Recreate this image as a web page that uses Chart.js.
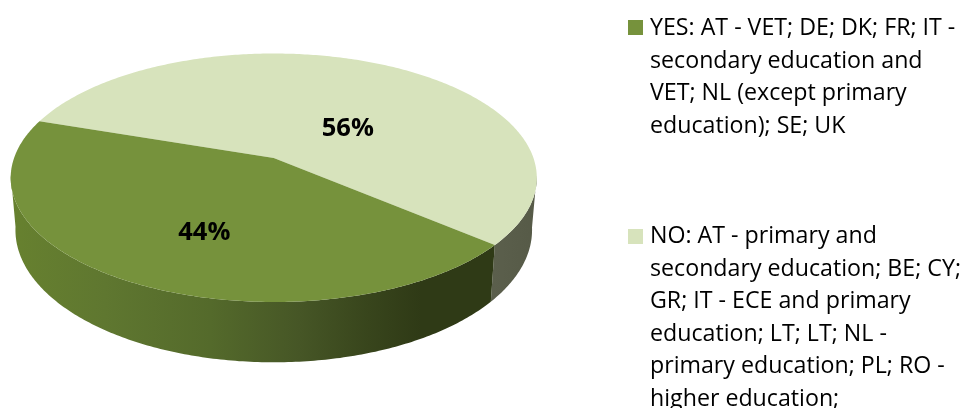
<!DOCTYPE html>
<html>
<head>
<meta charset="utf-8">
<style>
html,body{margin:0;padding:0;background:#fff;overflow:hidden}
canvas{display:block}
</style>
<script src="https://cdn.jsdelivr.net/npm/chart.js@4/dist/chart.umd.min.js"></script>
</head>
<body>
<canvas id="pie" width="966" height="408"></canvas>
<script>
// Survey answers and their share of responses
const categories = ['YES', 'NO'];
const shares = [44, 56];
const faceColours = ['#76923C', '#D7E3BC'];

// Legend wording, one array per answer, one entry per printed line
const yesLines = ['YES: AT - VET; DE; DK; FR; IT -', 'secondary education and', 'VET; NL (except primary', 'education); SE; UK'];
const noLines = ['NO: AT - primary and', 'secondary education; BE; CY;', 'GR; IT - ECE and primary', 'education; LT; LT; NL -', 'primary education; PL; RO -', 'higher education;'];

// Perspective model of the tilted disc: unit circle -> top face of the pie
const view = {cx: 273.75, apexY: 158, sx: 259.7, sy: 121.1, k: -0.159};
// The lower rim is the top rim moved down and slightly rescaled
const rim = {topCy: 177.75, lowCy: 230, fx: 0.982, fy: 1.065};

function project(r, a) {
  const x = r * Math.cos(a), y = r * Math.sin(a), w = 1 + view.k * y;
  return {x: view.cx + view.sx * x / w, y: view.apexY + view.sy * y / w};
}
function lower(p) {
  return {x: view.cx + (p.x - view.cx) * rim.fx, y: rim.lowCy + (p.y - rim.topCy) * rim.fy};
}
function rimPoints(a0, a1) {
  const n = Math.max(8, Math.ceil((a1 - a0) * 80)), pts = [];
  for (let i = 0; i <= n; i++) pts.push(project(1, a0 + (a1 - a0) * i / n));
  return pts;
}
function wallGradient(ctx, stops) {
  const g = ctx.createLinearGradient(10, 0, 537, 0);
  stops.forEach(s => g.addColorStop(s[0], s[1]));
  return g;
}

const wallStops = [
  [[0, '#67812F'], [0.18, '#5F7730'], [0.38, '#546A2B'], [0.55, '#465626'], [0.68, '#38451C'], [0.78, '#2F3A16'], [1, '#2F3A16']],
  [[0, '#5E6350'], [0.9, '#5C604D'], [1, '#565A47']]
];
const labelPlacement = [{turn: -5.4, radius: 0.60}, {turn: 18.6, radius: 0.40}];
const labelDrop = 2;
const legendLayout = {swatchX: 628, swatchSize: 15, textX: 650, lineGap: 32.6, blocks: [{top: 20, base: 35}, {top: 229, base: 243}]};

const tiltedPie = {
  id: 'tiltedPie',
  beforeDatasetDraw(chart, args) {
    const ctx = chart.ctx, arcs = chart.getDatasetMeta(args.index).data;
    ctx.save();
    // Side walls as one path of small quads, front half of the rim only
    [1, 0].forEach(i => {
      const top = rimPoints(arcs[i].startAngle, arcs[i].endAngle);
      ctx.beginPath();
      for (let j = 0; j < top.length - 1; j++) {
        const a = top[j], b = top[j + 1], c = lower(b), d = lower(a);
        if (a.y < rim.topCy - 4 || b.y < rim.topCy - 4) continue;
        ctx.moveTo(a.x, a.y);
        ctx.lineTo(b.x, b.y);
        ctx.lineTo(c.x, c.y);
        ctx.lineTo(d.x, d.y);
        ctx.closePath();
      }
      ctx.fillStyle = wallGradient(ctx, wallStops[i]);
      ctx.fill();
    });
    // Top faces
    [1, 0].forEach(i => {
      const apex = project(0, 0);
      ctx.beginPath();
      ctx.moveTo(apex.x, apex.y);
      rimPoints(arcs[i].startAngle, arcs[i].endAngle).forEach(p => ctx.lineTo(p.x, p.y));
      ctx.closePath();
      ctx.fillStyle = arcs[i].options.backgroundColor;
      ctx.fill();
    });
    // Percentage labels
    ctx.fillStyle = '#000';
    ctx.font = 'bold 25.5px "Open Sans"';
    ctx.textAlign = 'center';
    ctx.textBaseline = 'middle';
    arcs.forEach((arc, i) => {
      const mid = (arc.startAngle + arc.endAngle) / 2 + labelPlacement[i].turn * Math.PI / 180;
      const p = project(labelPlacement[i].radius, mid);
      ctx.fillText(shares[i] + '%', p.x, p.y + labelDrop);
    });
    ctx.restore();
    return false;
  },
  afterDraw(chart) {
    const ctx = chart.ctx;
    ctx.save();
    ctx.font = '23.2px "Open Sans"';
    ctx.textAlign = 'left';
    ctx.textBaseline = 'alphabetic';
    [yesLines, noLines].forEach((lines, i) => {
      const b = legendLayout.blocks[i];
      ctx.fillStyle = faceColours[i];
      ctx.fillRect(legendLayout.swatchX, b.top, legendLayout.swatchSize, legendLayout.swatchSize);
      ctx.fillStyle = '#000';
      lines.forEach((line, n) => ctx.fillText(line, legendLayout.textX, b.base + n * legendLayout.lineGap));
    });
    ctx.restore();
  }
};

new Chart(document.getElementById('pie'), {
  type: 'pie',
  data: {
    labels: categories,
    datasets: [{data: shares, backgroundColor: faceColours, borderWidth: 0}]
  },
  options: {
    responsive: false,
    animation: false,
    rotation: 130.2,
    plugins: {legend: {display: false}, tooltip: {enabled: false}}
  },
  plugins: [tiltedPie]
});
</script>
</body>
</html>
